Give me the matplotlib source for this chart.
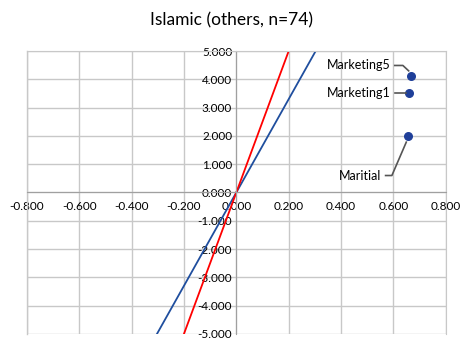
import matplotlib
matplotlib.use("Agg")
import matplotlib.pyplot as plt

plt.rcParams['font.family'] = ['Lato', 'DejaVu Sans']

# Points
point_names = ["Marketing5", "Marketing1", "Maritial"]
point_x = [0.667, 0.659, 0.655]
point_y = [4.10, 3.50, 1.98]

# Lines (endpoints)
red_x = [-0.200, 0.200]
red_y = [-5.0, 5.0]
blue_x = [-0.303, 0.303]
blue_y = [-5.0, 5.0]

xticks = [-0.8, -0.6, -0.4, -0.2, 0.0, 0.2, 0.4, 0.6, 0.8]
yticks = [-5, -4, -3, -2, -1, 0, 1, 2, 3, 4, 5]

fig = plt.figure(figsize=(4.62, 3.38), dpi=100)
ax = fig.add_axes([0.058, 0.012, 0.907, 0.837])
ax.set_xlim(-0.8, 0.8)
ax.set_ylim(-5, 5)

ax.set_xticks(xticks)
ax.set_yticks(yticks)
ax.set_xticklabels([f"{v:.3f}" for v in xticks])
ax.set_yticklabels([f"{v:.3f}" for v in yticks])
ax.grid(True, color="#c8c8c8", linewidth=1.0)
ax.set_axisbelow(True)

for s in ["top", "right"]:
    ax.spines[s].set_color("#c8c8c8")
ax.spines["left"].set_position(("data", 0))
ax.spines["bottom"].set_position(("data", 0))
ax.spines["left"].set_color("#a0a0a0")
ax.spines["bottom"].set_color("#a0a0a0")
ax.tick_params(length=0, labelsize=8.5, colors="#000000")
ax.tick_params(axis="x", pad=6)
ax.tick_params(axis="y", pad=3)
for lab in ax.get_xticklabels() + ax.get_yticklabels():
    lab.set_clip_on(False)

# left border
ax.plot([-0.8, -0.8], [-5, 5], color="#c8c8c8", linewidth=1.0, clip_on=False)

ax.plot(blue_x, blue_y, color="#1f4e9e", linewidth=1.3)
ax.plot(red_x, red_y, color="#ff0000", linewidth=1.3)

ax.scatter(point_x, point_y, s=30, color="#1f3f99", zorder=5)

# data label placement: text offset, leader bend and leader end, relative to the point
label_dx = [-0.077, -0.069, -0.100]
label_dy = [0.39, 0.0, -1.38]
bend_dx = [-0.031, -0.020, -0.061]
end_dx = [-0.009, -0.010, -0.006]
end_dy = [0.20, 0.0, -0.20]
for i in range(len(point_names)):
    px, py = point_x[i], point_y[i]
    tx, ty = px + label_dx[i], py + label_dy[i]
    ax.text(tx, ty, point_names[i], ha="right", va="center", fontsize=9, zorder=6)
    lx = [tx + 0.015, px + bend_dx[i], px + end_dx[i]]
    ly = [ty, ty, py + end_dy[i]]
    ax.plot(lx, ly, color="#555555", linewidth=1.2, zorder=6)

fig.suptitle("Islamic (others, n=74)", fontsize=12.5, y=0.965)

fig.savefig("out.png", dpi=100)
